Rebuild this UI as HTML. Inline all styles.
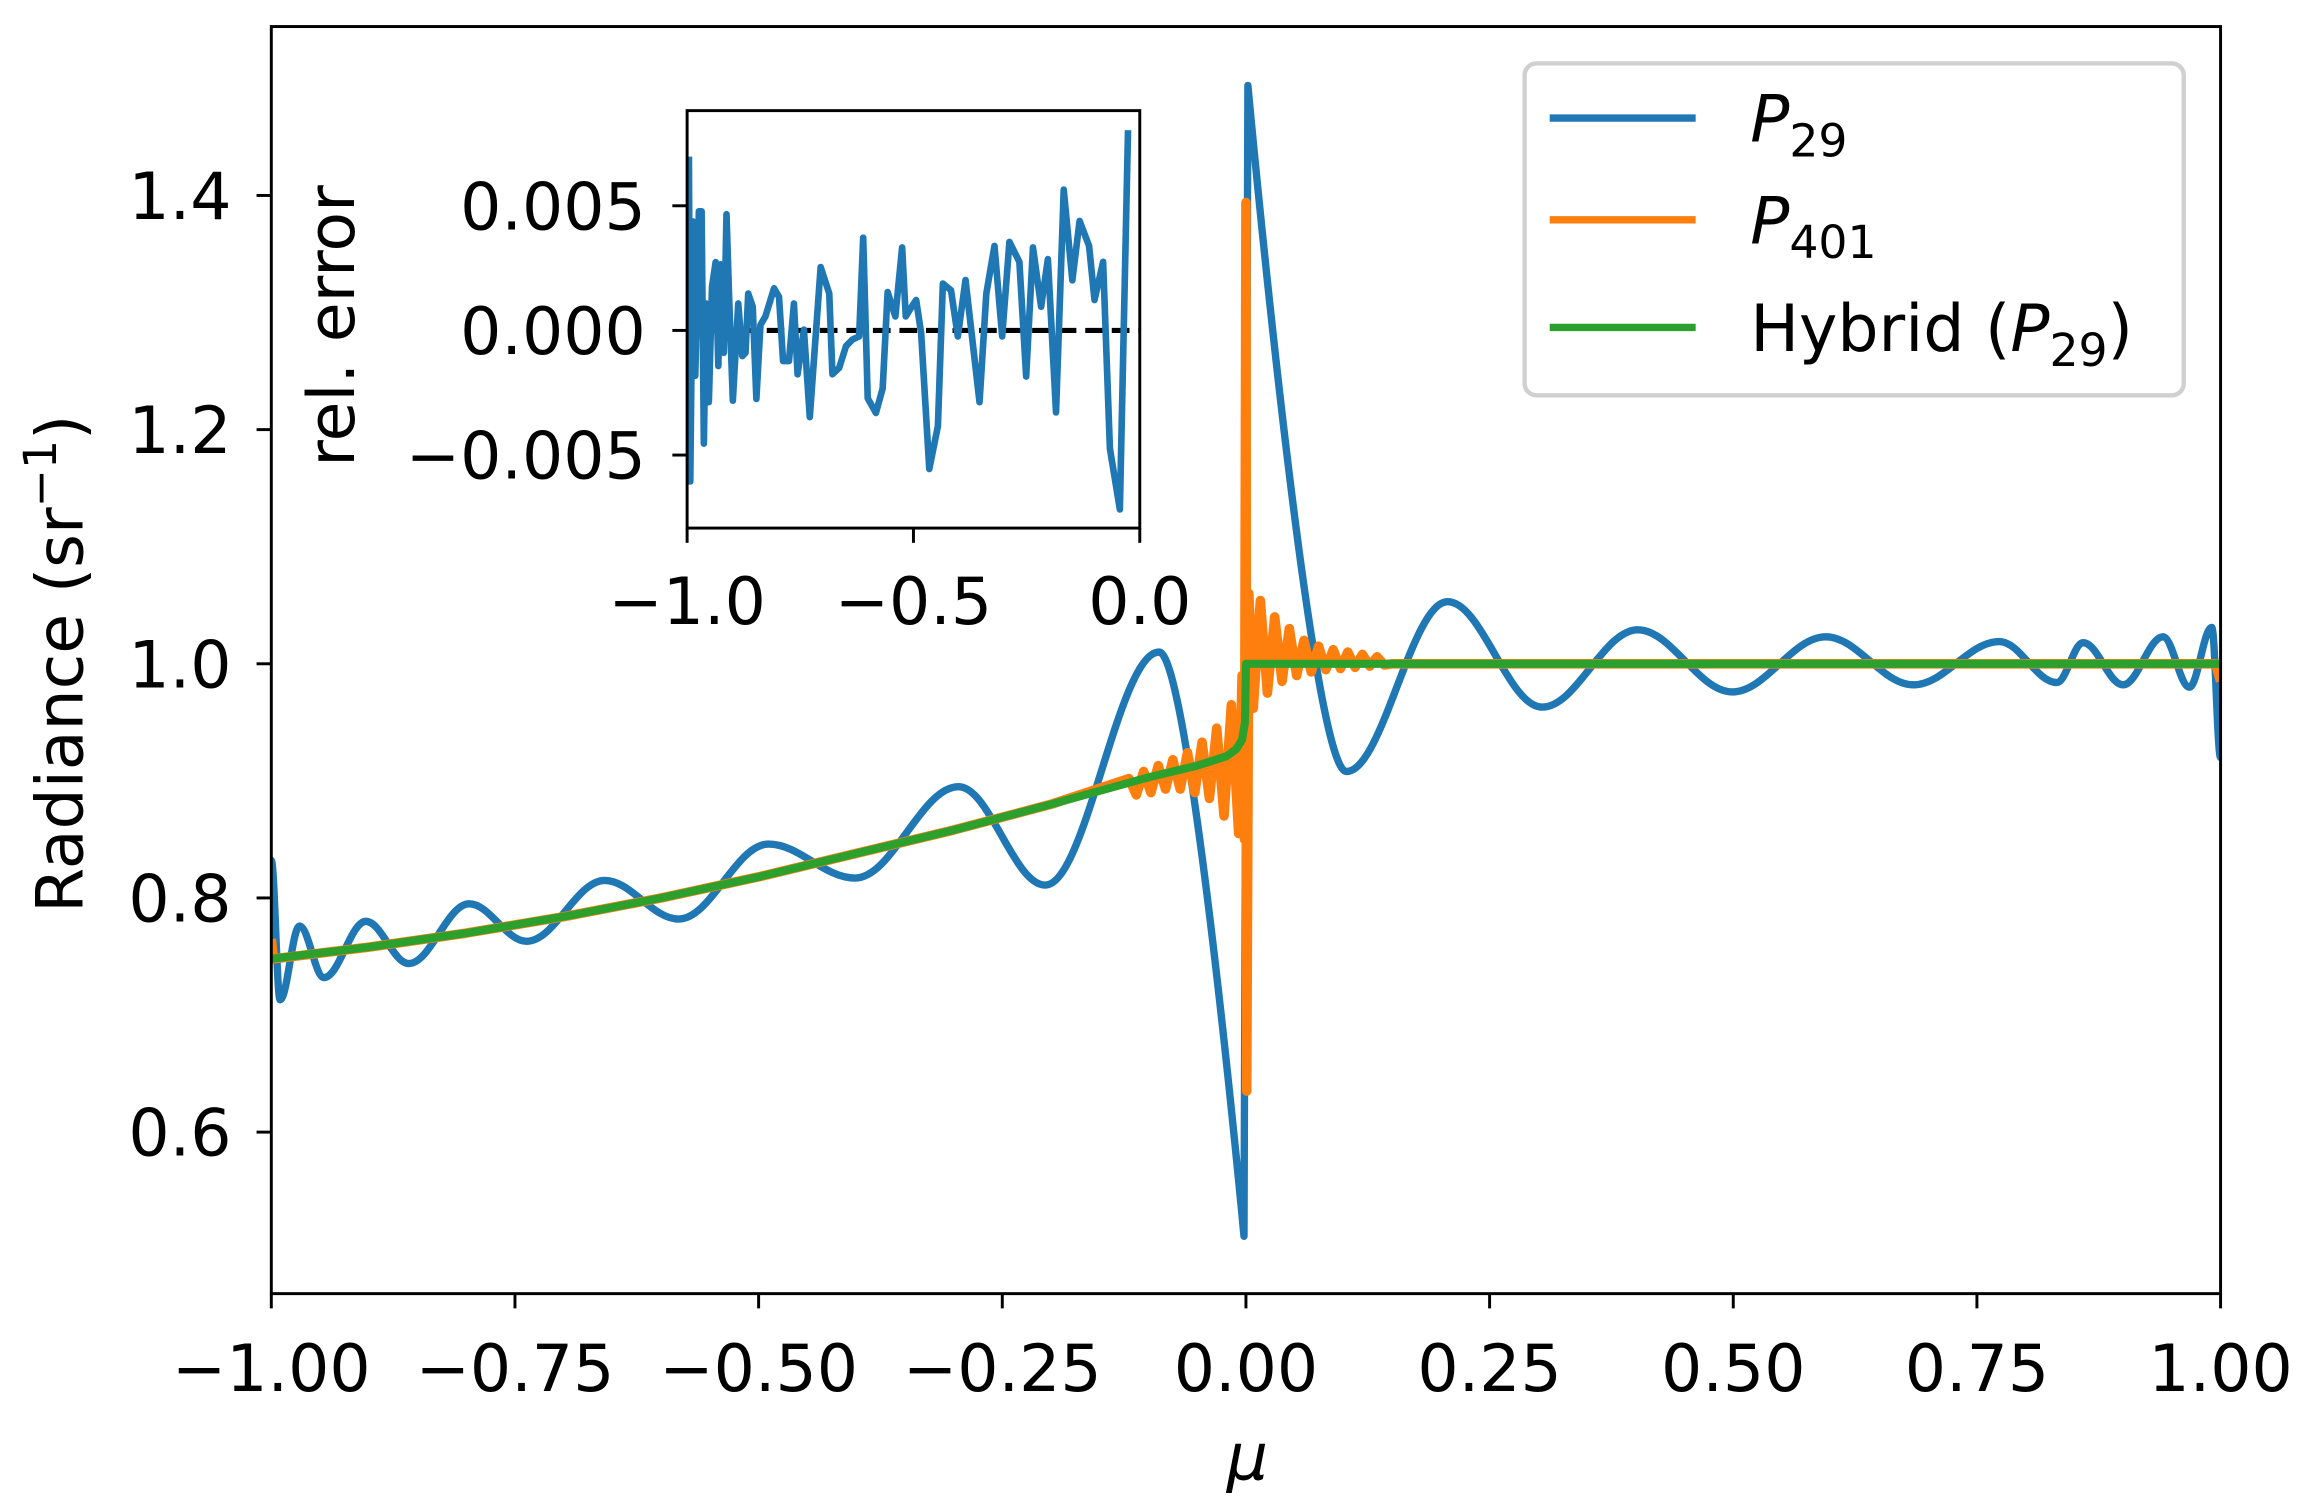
<!DOCTYPE html>
<html><head><meta charset="utf-8"><style>
html,body{margin:0;padding:0;background:#fff;}
svg{display:block;}
text{font-family:"DejaVu Sans","Liberation Sans",sans-serif;fill:#000;}
</style></head><body>
<svg id="chart" width="2312" height="1509" viewBox="0 0 1568 1023" preserveAspectRatio="none" xmlns="http://www.w3.org/2000/svg">
<g id="main"></g>
<g id="inset"></g>
<g id="legend"></g>
</svg>
<script>
// ---- main chart data ----
const xTicks = [-1.0, -0.75, -0.5, -0.25, 0.0, 0.25, 0.5, 0.75, 1.0];
const xTickLabels = ["\u22121.00","\u22120.75","\u22120.50","\u22120.25","0.00","0.25","0.50","0.75","1.00"];
const yTicks = [0.6, 0.8, 1.0, 1.2, 1.4];
const yTickLabels = ["0.6","0.8","1.0","1.2","1.4"];
const p29X = [-1,-0.991,-0.971,-0.946,-0.903,-0.859,-0.797,-0.738,-0.658,-0.582,-0.490,-0.401,-0.295,-0.206,-0.089,-0.002,0.002,0.103,0.207,0.304,0.402,0.499,0.595,0.685,0.773,0.832,0.859,0.900,0.941,0.968,0.991,1.0];
const p29Y = [0.832,0.713,0.776,0.732,0.780,0.744,0.795,0.763,0.815,0.782,0.846,0.817,0.895,0.811,1.010,0.511,1.494,0.908,1.053,0.963,1.029,0.976,1.023,0.982,1.019,0.984,1.018,0.982,1.023,0.980,1.031,0.920];
const p29Sharp = [15, 16];
const hybX = [-1,-0.9,-0.8,-0.7,-0.6,-0.5,-0.4,-0.3,-0.2,-0.1,-0.05,-0.02,-0.01,-0.004,-0.001,0,1];
const hybY = [0.748,0.758,0.770,0.784,0.800,0.818,0.838,0.858,0.880,0.903,0.913,0.921,0.927,0.935,0.950,1.0,1.0];
const p401X = [-1,-0.998,-0.9,-0.8,-0.7,-0.6,-0.5,-0.4,-0.3,-0.2,-0.12,-0.1125,-0.105,-0.0975,-0.09,-0.0825,-0.075,-0.0675,-0.06,-0.0525,-0.045,-0.0375,-0.03,-0.0225,-0.015,-0.0075,-0.004,-0.0015,0,0.0008,0.003,0.0075,0.0148,0.022,0.0295,0.037,0.0445,0.052,0.0595,0.067,0.0745,0.082,0.0895,0.097,0.1045,0.112,0.1195,0.127,0.1345,0.142,0.15,0.995,1.0];
const p401Y = [0.765,0.748,0.758,0.770,0.784,0.800,0.818,0.838,0.858,0.880,0.902,0.888,0.908,0.890,0.913,0.893,0.918,0.893,0.924,0.890,0.933,0.885,0.945,0.870,0.965,0.855,0.99,0.85,1.394,0.635,1.06,0.962,1.054,0.975,1.04,0.985,1.03,0.99,1.02,0.993,1.015,0.995,1.012,0.996,1.01,0.997,1.008,0.998,1.006,0.999,1.0,1.0,0.985];
// ---- inset data (rel. error, units of 1e-3) ----
const insXTicks = [-1.0, -0.5, 0.0];
const insXTickLabels = ["\u22121.0","\u22120.5","0.0"];
const insYTicks = [-5, 0, 5];
const insYTickLabels = ["\u22120.005","0.000","0.005"];
const errX = [-0.996,-0.993,-0.987,-0.982,-0.974,-0.968,-0.963,-0.958,-0.952,-0.945,-0.937,-0.931,-0.926,-0.919,-0.913,-0.907,-0.899,-0.887,-0.878,-0.871,-0.865,-0.855,-0.847,-0.838,-0.827,-0.808,-0.797,-0.788,-0.775,-0.764,-0.756,-0.742,-0.729,-0.705,-0.686,-0.679,-0.664,-0.649,-0.635,-0.620,-0.611,-0.601,-0.583,-0.568,-0.557,-0.540,-0.525,-0.517,-0.506,-0.494,-0.483,-0.465,-0.446,-0.435,-0.417,-0.402,-0.385,-0.354,-0.339,-0.321,-0.304,-0.288,-0.266,-0.251,-0.236,-0.218,-0.203,-0.185,-0.168,-0.149,-0.133,-0.112,-0.100,-0.081,-0.066,-0.044,-0.026];
const errY = [6.97,-6.06,4.37,-1.82,4.78,4.78,-4.54,1.08,-2.88,1.74,2.74,-1.43,2.65,-0.90,4.66,1.22,-2.82,1.08,-1.03,-0.90,1.48,0.95,-2.75,0.22,0.56,1.69,1.35,-1.23,-1.23,1.08,-1.76,0.03,-3.48,2.54,1.48,-1.76,-1.50,-0.63,-0.37,-0.24,3.72,-2.72,-3.31,-2.33,1.54,0.56,3.33,0.56,0.89,1.22,-0.11,-5.56,-3.84,1.88,1.61,-0.24,2.02,-2.88,1.48,3.39,-0.24,3.55,2.75,-1.85,3.33,0.95,2.86,-3.29,5.65,2.01,4.39,3.39,1.22,2.75,-4.74,-7.18,8.03];

const NS = "http://www.w3.org/2000/svg";
function mk(parent, tag, attrs, text) {
  const el = document.createElementNS(NS, tag);
  for (const k in attrs) el.setAttribute(k, attrs[k]);
  if (text !== undefined) el.textContent = text;
  parent.appendChild(el);
  return el;
}
const C1 = "#1f77b4", C2 = "#ff7f0e", C3 = "#2ca02c";
const L = 184, R = 1506, T = 18, B = 877;
const sx = v => L + (v + 1) / 2 * (R - L);
const sy = v => 450 - (v - 1.0) / 0.2 * 158.75;
const main = document.getElementById('main');

function polyPath(xs, ys, fx, fy) {
  return xs.map((x, i) => (i ? 'L' : 'M') + fx(x).toFixed(2) + ' ' + fy(ys[i]).toFixed(2)).join(' ');
}
function wavePath(xs, ys, fx, fy, sharp) {
  let d = 'M' + fx(xs[0]) + ' ' + fy(ys[0]);
  for (let i = 1; i < xs.length; i++) {
    const x0 = fx(xs[i-1]), y0 = fy(ys[i-1]), x1 = fx(xs[i]), y1 = fy(ys[i]);
    const dx = x1 - x0;
    let c1x = x0 + 0.36*dx, c1y = y0, c2x = x1 - 0.36*dx, c2y = y1;
    if (sharp.includes(i-1)) { c1x = x0; c1y = y0; }
    if (sharp.includes(i)) { c2x = x1; c2y = y1; }
    d += ' C' + c1x.toFixed(2) + ' ' + c1y.toFixed(2) + ' ' + c2x.toFixed(2) + ' ' + c2y.toFixed(2) + ' ' + x1.toFixed(2) + ' ' + y1.toFixed(2);
  }
  return d;
}
const clip = mk(main, 'clipPath', {id: 'mclip'});
mk(clip, 'rect', {x: L, y: T, width: R - L, height: B - T});
const lines = mk(main, 'g', {'clip-path': 'url(#mclip)'});
const lp29 = mk(lines, 'path', {d: wavePath(p29X, p29Y, sx, sy, p29Sharp), fill: 'none', stroke: C1, 'stroke-width': 5, 'stroke-linejoin': 'round'});


const lp401 = mk(lines, 'path', {d: polyPath(p401X, p401Y, sx, sy), fill: 'none', stroke: C2, 'stroke-width': 6.5, 'stroke-linejoin': 'round'});


const lhyb = mk(lines, 'path', {d: polyPath(hybX, hybY, sx, sy), fill: 'none', stroke: C3, 'stroke-width': 5.5, 'stroke-linejoin': 'round'});


mk(main, 'rect', {x: L, y: T, width: R - L, height: B - T, fill: 'none', stroke: '#000', 'stroke-width': 2});
xTicks.forEach((v, i) => {
  mk(main, 'line', {x1: sx(v), x2: sx(v), y1: B, y2: B + 10, stroke: '#000', 'stroke-width': 2});
  const t = mk(main, 'text', {x: sx(v), y: 943, 'font-size': 44, 'text-anchor': 'middle'}, xTickLabels[i]);
  
  
});
yTicks.forEach((v, i) => {
  mk(main, 'line', {x1: L - 10, x2: L, y1: sy(v), y2: sy(v), stroke: '#000', 'stroke-width': 2});
  const t = mk(main, 'text', {x: 157, y: sy(v) + 16, 'font-size': 44, 'text-anchor': 'end'}, yTickLabels[i]);
  
  
});
const xt = mk(main, 'text', {x: 846, y: 1003, 'font-size': 44, 'text-anchor': 'middle', 'font-style': 'italic'}, 'μ');


const yt = mk(main, 'text', {x: 0, y: 0, 'font-size': 44, 'text-anchor': 'middle', transform: 'translate(56,450) rotate(-90)'});


yt.appendChild(document.createTextNode('Radiance (sr'));
mk(yt, 'tspan', {dy: -18, 'font-size': 31}, '\u22121');
mk(yt, 'tspan', {dy: 18}, ')');

// inset
const IL = 466, IR = 773, IT = 75, IB = 358;
const ix = v => IL + (v + 1) * (IR - IL);
const iy = v => 224 - v / 5 * 84.5;
const inset = document.getElementById('inset');
mk(inset, 'rect', {x: IL, y: IT, width: IR - IL, height: IB - IT, fill: '#fff'});
const iclip = mk(inset, 'clipPath', {id: 'iclip'});
mk(iclip, 'rect', {x: IL, y: IT, width: IR - IL, height: IB - IT});
const ig = mk(inset, 'g', {'clip-path': 'url(#iclip)'});
const zl = mk(ig, 'line', {x1: IL, x2: IR, y1: iy(0), y2: iy(0), stroke: '#000', 'stroke-width': 3.5, 'stroke-dasharray': '12,6'});


const el = mk(ig, 'path', {d: polyPath(errX, errY, ix, iy), fill: 'none', stroke: C1, 'stroke-width': 4.5, 'stroke-linejoin': 'round'});


mk(inset, 'rect', {x: IL, y: IT, width: IR - IL, height: IB - IT, fill: 'none', stroke: '#000', 'stroke-width': 2});
insXTicks.forEach((v, i) => {
  mk(inset, 'line', {x1: ix(v), x2: ix(v), y1: IB, y2: IB + 10, stroke: '#000', 'stroke-width': 2});
  const t = mk(inset, 'text', {x: ix(v), y: 423, 'font-size': 44, 'text-anchor': 'middle'}, insXTickLabels[i]);
  
  
});
insYTicks.forEach((v, i) => {
  mk(inset, 'line', {x1: IL - 10, x2: IL, y1: iy(v), y2: iy(v), stroke: '#000', 'stroke-width': 2});
  const t = mk(inset, 'text', {x: 438, y: iy(v) + 16, 'font-size': 44, 'text-anchor': 'end'}, insYTickLabels[i]);
  
  
});
const iyt = mk(inset, 'text', {x: 0, y: 0, 'font-size': 44, 'text-anchor': 'middle', transform: 'translate(240,221) rotate(-90)'}, 'rel. error');



// legend
const lg = document.getElementById('legend');
mk(lg, 'rect', {x: 1034, y: 43, width: 447, height: 225, rx: 8, fill: '#fff', 'fill-opacity': 0.9, stroke: '#d0d0d0', 'stroke-width': 3});
const entries = [[C1, 80, 'P', '29', false], [C2, 149, 'P', '401', false], [C3, 222, 'P', '29', true]];
entries.forEach(e => {
  const g = mk(lg, 'g', {});
  
  
  mk(g, 'line', {x1: 1051, x2: 1150, y1: e[1], y2: e[1], stroke: e[0], 'stroke-width': 5});
  const t = mk(g, 'text', {x: 1187, y: e[1] + 16, 'font-size': 44});
  if (e[4]) t.appendChild(document.createTextNode('Hybrid ('));
  mk(t, 'tspan', {'font-style': 'italic'}, e[2]);
  mk(t, 'tspan', {dy: 10, 'font-size': 31}, e[3]);
  if (e[4]) mk(t, 'tspan', {dy: -10}, ')');
});
</script>
</body></html>
